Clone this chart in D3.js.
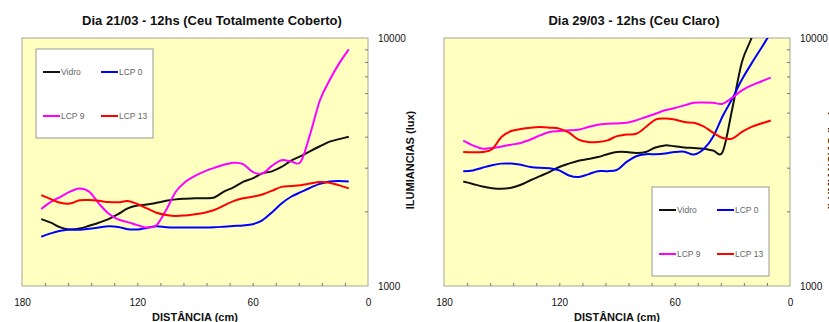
<!doctype html>
<html lang="en">
<head>
  <meta charset="utf-8">
  <title>Iluminancias</title>
  <style>
    body { margin: 0; background: #fff; }
    text { font-family: Arial, "Liberation Sans", sans-serif; }
  </style>
</head>
<body>
<svg width="829" height="322" id="chart"></svg>

<script src="https://d3js.org/d3.v7.min.js"></script>
<script>
    // distance from the window, cm (170 down to 10, every 5)
    var distancias = [170,165,160,155,150,145,140,135,130,125,120,115,110,105,100,95,90,85,80,75,70,65,60,55,50,45,40,35,30,25,20,15,10];

    var series = ["Vidro", "LCP 0", "LCP 9", "LCP 13"];
    var cores = ["#111111", "#0000ff", "#ff00ff", "#ff0000"];

    var xTicks = [180, 120, 60, 0];
    var yTicks = [1000, 10000];

    // Dia 21/03 - ceu totalmente coberto (lux)
    var vidro2103 = [1860,1800,1724,1690,1705,1750,1800,1860,1950,2055,2110,2130,2165,2205,2235,2250,2260,2260,2275,2400,2500,2630,2717,2845,2900,3020,3200,3340,3500,3660,3820,3910,4000];
    var lcp0_2103 = [1580,1630,1670,1690,1685,1700,1720,1740,1730,1695,1690,1715,1740,1725,1720,1720,1720,1720,1725,1735,1745,1755,1775,1840,1980,2150,2290,2390,2490,2580,2640,2650,2640];
    var lcp9_2103 = [2045,2185,2290,2400,2475,2400,2150,1960,1855,1810,1760,1720,1760,2025,2400,2630,2780,2900,2995,3080,3140,3100,2885,2840,3050,3215,3180,3170,4120,5610,6760,7900,9000];
    var lcp13_2103 = [2325,2240,2165,2150,2215,2220,2205,2180,2175,2200,2140,2055,1975,1935,1915,1925,1945,1975,2025,2110,2200,2260,2290,2340,2420,2510,2530,2550,2590,2625,2610,2545,2475];

    // Dia 29/03 - ceu claro (lux)
    var vidro2903 = [2640,2580,2520,2480,2465,2490,2560,2670,2775,2885,3020,3115,3200,3250,3310,3400,3470,3470,3440,3470,3620,3690,3660,3620,3600,3575,3520,3480,5200,8000,10000,13000,16000];
    var lcp0_2903 = [2900,2925,3000,3070,3115,3115,3080,3020,2995,2985,2925,2790,2750,2820,2905,2905,2940,3165,3335,3400,3400,3420,3470,3480,3390,3560,4000,4850,5700,6800,7900,9100,10500];
    var lcp9_2903 = [3855,3690,3580,3600,3655,3715,3775,3895,4050,4175,4215,4245,4270,4375,4470,4510,4525,4550,4655,4800,4950,5110,5220,5350,5480,5490,5480,5430,5750,6150,6440,6680,6920];
    var lcp13_2903 = [3470,3460,3470,3560,4000,4215,4295,4350,4375,4350,4310,4150,3895,3810,3810,3865,4020,4080,4110,4375,4690,4735,4690,4580,4550,4405,4150,3950,3930,4180,4380,4520,4650];

    var graficos = [
        { titulo: "Dia 21/03 - 12hs (Ceu Totalmente Coberto)", left: 22,
          valores: [vidro2103, lcp0_2103, lcp9_2103, lcp13_2103], legenda: [14, 11] },
        { titulo: "Dia 29/03 - 12hs (Ceu Claro)", left: 444,
          valores: [vidro2903, lcp0_2903, lcp9_2903, lcp13_2903], legenda: [208, 149] }
    ];

    var svg = d3.select("#chart");
    var plotTop = 38, width = 346, height = 248;

    var x = d3.scaleLinear().domain([180, 0]).range([0, width]);
    var y = d3.scaleLog().domain([1000, 10000]).range([height, 0]);

    var line = d3.line()
        .x(function(d) { return x(d[0]); })
        .y(function(d) { return y(d[1]); })
        .curve(d3.curveCatmullRom.alpha(0));

    graficos.forEach(function(g, gi) {
        var root = svg.append("g").attr("transform", "translate(" + g.left + "," + plotTop + ")");

        root.append("clipPath").attr("id", "clip" + gi)
            .append("rect").attr("width", width).attr("height", height);

        root.append("rect")
            .attr("width", width).attr("height", height)
            .attr("fill", "#ffffc0")
            .attr("stroke", "#b4b4a4").attr("stroke-width", 1.2);

        // minor ticks, pointing inside
        root.append("g")
            .attr("transform", "translate(0," + height + ")")
            .call(d3.axisTop(x).tickValues(d3.range(168, 0, -12)).tickSize(3).tickFormat(""))
            .call(function(a) { a.select(".domain").remove(); a.selectAll("line").attr("stroke", "#777"); });

        root.append("g")
            .attr("transform", "translate(" + width + ",0)")
            .call(d3.axisLeft(y).tickValues(d3.range(2000, 10000, 1000)).tickSize(3).tickFormat(""))
            .call(function(a) { a.select(".domain").remove(); a.selectAll("line").attr("stroke", "#777"); });

        // labels
        root.append("g")
            .attr("transform", "translate(0," + height + ")")
            .call(d3.axisBottom(x).tickValues(xTicks).tickSize(0).tickPadding(13).tickFormat(d3.format("d")))
            .call(function(a) { a.select(".domain").remove(); a.selectAll("text").attr("font-size", 10).attr("fill", "#111"); });

        root.append("g")
            .attr("transform", "translate(" + width + ",0)")
            .call(d3.axisRight(y).tickValues(yTicks).tickSize(0).tickPadding(10).tickFormat(d3.format("d")))
            .call(function(a) { a.select(".domain").remove(); a.selectAll("text").attr("font-size", 10).attr("fill", "#111"); });

        // curves
        var plot = root.append("g").attr("clip-path", "url(#clip" + gi + ")");
        g.valores.forEach(function(vals, i) {
            var pts = distancias.map(function(d, k) { return [d, vals[k]]; });
            plot.append("path")
                .attr("d", line(pts))
                .attr("fill", "none")
                .attr("stroke", cores[i])
                .attr("stroke-width", 2);
        });

        // titles
        root.append("text")
            .attr("x", width / 2 + 17).attr("y", 25 - plotTop)
            .attr("text-anchor", "middle")
            .attr("font-size", 13).attr("font-weight", "bold").attr("fill", "#111")
            .text(g.titulo);

        root.append("text")
            .attr("x", width / 2).attr("y", 321 - plotTop)
            .attr("text-anchor", "middle")
            .attr("font-size", 11).attr("font-weight", "bold").attr("fill", "#111")
            .text("DISTÂNCIA (cm)");

        root.append("text")
            .attr("transform", "translate(" + (width + 46) + "," + (160 - plotTop) + ") rotate(-90)")
            .attr("text-anchor", "middle")
            .attr("font-size", 11).attr("font-weight", "bold").attr("fill", "#111")
            .text("ILUMIANCIAS (lux)");

        // legend
        var leg = root.append("g").attr("transform", "translate(" + g.legenda[0] + "," + g.legenda[1] + ")");
        leg.append("rect")
            .attr("width", 117).attr("height", 89)
            .attr("fill", "#fff").attr("stroke", "#999").attr("stroke-width", 1);
        series.forEach(function(s, i) {
            var lx = (i % 2) * 58 + 7, ly = Math.floor(i / 2) * 44 + 23;
            leg.append("line")
                .attr("x1", lx).attr("x2", lx + 17).attr("y1", ly).attr("y2", ly)
                .attr("stroke", cores[i]).attr("stroke-width", 2);
            leg.append("text")
                .attr("x", lx + 18).attr("y", ly + 3)
                .attr("font-size", 8.5).attr("fill", "#666")
                .text(s);
        });
    });
</script>
</body>
</html>
